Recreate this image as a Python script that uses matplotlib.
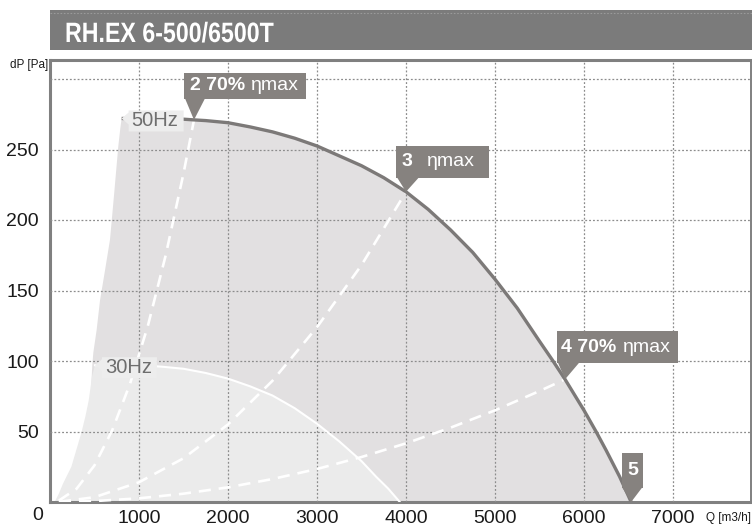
import matplotlib
matplotlib.use("Agg")
import matplotlib.pyplot as plt
from matplotlib.patches import Polygon, Rectangle, PathPatch
from matplotlib.lines import Line2D
from matplotlib.textpath import TextPath
from matplotlib.font_manager import FontProperties
from matplotlib.transforms import Affine2D

plt.rcParams['font.family'] = ['Liberation Sans', 'DejaVu Sans']

# ---- data ----
# 50 Hz fan curve (Q m3/h, dP Pa)
q50 = [805, 1000, 1250, 1500, 1618, 1750, 2000, 2250, 2500, 2750, 3000, 3250, 3500, 3750,
       4000, 4250, 4500, 4750, 5000, 5250, 5500, 5652, 5787, 6000, 6135, 6250, 6400, 6530]
p50 = [272, 272, 272, 271.5, 271, 270.5, 269, 266, 262.5, 258, 252.5, 245.5, 238.5, 230,
       220, 207.5, 193, 177, 158, 137.5, 114, 100, 87, 65, 50, 36.5, 18, 0]
# left (stall) boundary of the 50 Hz area
stall50_q = [400, 475, 487, 524, 562, 620, 674, 720, 767, 790, 805]
stall50_p = [0, 97, 106, 122, 143, 165, 186, 218, 252, 265, 272]

# 30 Hz fan curve
q30 = [505, 750, 1000, 1250, 1500, 1750, 2000, 2250, 2500, 2750, 3000, 3250, 3500, 3663, 3800, 3930]
p30 = [97, 97.5, 97, 96, 94.5, 91.5, 87.5, 82, 75.5, 66.5, 55.5, 43, 29, 18, 9.5, 0]
stall30_q = [52, 100, 146, 240, 296, 352, 397, 435, 472, 505]
stall30_p = [0, 6, 13, 25, 37, 49, 60.5, 72, 89, 97]

# system curves (dashed)
sysA_q = [100, 300, 500, 700, 900, 1100, 1300, 1500, 1618]
sysA_p = [1, 9.5, 26, 51, 84, 125, 175, 233, 271]
sysB_q = [100, 500, 1000, 1500, 2000, 2500, 3000, 3500, 4000]
sysB_p = [0.1, 3.4, 14, 31, 55, 86, 124, 168, 220]
sysC_q = [100, 500, 1000, 1500, 2000, 2500, 3000, 3500, 4000, 4500, 5000, 5500, 5787]
sysC_p = [0, 0.65, 2.6, 5.9, 10.4, 16.3, 23.4, 31.9, 41.6, 52.7, 65, 78.7, 87]

# operating point labels: (Q, dP, bold part, regular part)
points = [
    (1618, 271, "2 70%", "\u03b7max"),
    (4000, 220, "3", "\u03b7max"),
    (5787, 87, "4 70%", "\u03b7max"),
    (6530, 0, "5", ""),
]

xticks = [1000, 2000, 3000, 4000, 5000, 6000, 7000]
yticks = [50, 100, 150, 200, 250, 300]
ytick_labels = ["50", "100", "150", "200", "250", ""]
title = "RH.EX 6-500/6500T"

# ---- figure ----
W, H = 752, 529
fig = plt.figure(figsize=(W / 100, H / 100), dpi=100)
ax_l, ax_r, ax_t, ax_b = 50, 751, 60, 502
ax = fig.add_axes([ax_l / W, 1 - ax_b / H, (ax_r - ax_l) / W, (ax_b - ax_t) / H])
xmax = (ax_r - ax_l) / 89 * 1000
ymax = (ax_b - ax_t) / 1.41
ax.set_xlim(0, xmax)
ax.set_ylim(0, ymax)
qpp = xmax / (ax_r - ax_l)   # Q per pixel
ppp = ymax / (ax_b - ax_t)   # Pa per pixel


def off(q, p, dx, dy):
    # pixel offset (dy positive = up) -> data coords
    return q + dx * qpp, p + dy * ppp


# shaded areas
poly50 = list(zip(stall50_q, stall50_p)) + list(zip(q50, p50))
ax.add_patch(Polygon(poly50, closed=True, fc="#e2e0e1", ec="none", zorder=1))
poly30 = list(zip(stall30_q, stall30_p)) + list(zip(q30, p30))
ax.add_patch(Polygon(poly30, closed=True, fc="#ebebeb", ec="none", zorder=1.1))

# grid
ax.set_xticks(xticks)
ax.set_yticks(yticks)
ax.set_yticklabels(ytick_labels)
ax.grid(True, color="#8c8c8c", linestyle=(0, (1.5, 1.6)), linewidth=0.9)
ax.set_axisbelow(False)
ax.tick_params(length=0, labelsize=14, colors="#1a1a1a")
ax.tick_params(axis="y", pad=8)
ax.tick_params(axis="x", pad=6)

# curves
for qs, ps in [(sysA_q, sysA_p), (sysB_q, sysB_p), (sysC_q, sysC_p)]:
    ax.plot(qs, ps, color="white", lw=1.9, dashes=(4.6, 3.0), zorder=3)
ax.plot(q30, p30, color="white", lw=1.5, zorder=3)
ax.plot(q50, p50, color="#7c7978", lw=2.4, zorder=4, solid_capstyle="butt")

for s in ax.spines.values():
    s.set_color("#808080")
    s.set_linewidth(2.2)
ax.spines["right"].set_linewidth(1.4)

# operating point boxes
box_col = "#86827f"
geo = [
    # box x0, x1, y0, y1 (px above tip), triangle base x0, x1, regular text x
    (-10, 112, 21, 47, -9, 11, 57),
    (-10, 83, 14, 46, -9, 13, 21),
    (-8, 113, 16, 48, -7, 14, 58),
    (-9, 12, 14, 49, -9, 11, 0),
]
for (q, p, bold, reg), (bx0, bx1, by0, by1, tx0, tx1, rx) in zip(points, geo):
    box = [off(q, p, bx0, by0), off(q, p, bx1, by0), off(q, p, bx1, by1), off(q, p, bx0, by1)]
    ax.add_patch(Polygon(box, closed=True, fc=box_col, ec="none", zorder=6, clip_on=False))
    tri = [off(q, p, tx0, by0 + 0.5), off(q, p, tx1, by0 + 0.5), off(q, p, 0, 0)]
    ax.add_patch(Polygon(tri, closed=True, fc=box_col, ec="none", zorder=6, clip_on=False))
    cy = (by0 + by1) / 2
    if reg:
        ax.text(*off(q, p, -4, cy), bold, color="white", fontsize=14, fontweight="bold",
                ha="left", va="center", zorder=7)
        ax.text(*off(q, p, rx, cy), reg, color="white", fontsize=14,
                ha="left", va="center", zorder=7)
    else:
        ax.text(*off(q, p, 1.5, cy), bold, color="white", fontsize=14, fontweight="bold",
                ha="center", va="center", zorder=7)

# speed labels
for q, p, lab in [(q50[0], p50[0], "50Hz"), (q30[0], p30[0], "30Hz")]:
    shape = [off(q, p, 0, 0), off(q, p, 7, 6), off(q, p, 7, 8), off(q, p, 62, 8),
             off(q, p, 62, -13), off(q, p, 7, -13), off(q, p, 7, -6)]
    ax.add_patch(Polygon(shape, closed=True, fc="#ededed", ec="none", zorder=5))
    ax.text(*off(q, p, 10, -2.5), lab, color="#6e6e6e", fontsize=14.5,
            ha="left", va="center", zorder=6)

# axis captions
fig.text(43 / W, 1 - 515 / H, "0", fontsize=14, color="#1a1a1a", ha="right", va="center")
fig.text(48 / W, 1 - 65 / H, "dP [Pa]", fontsize=8.5, color="#1a1a1a", ha="right", va="center")
fig.text(751 / W, 1 - 518 / H, "Q [m3/h]", fontsize=8.5, color="#1a1a1a", ha="right", va="center")

# title bar
fig.add_artist(Rectangle((50 / W, 1 - 50 / H), (W - 50) / W, 40 / H,
                         transform=fig.transFigure, fc="#7b7b7b", ec="none"))
fig.add_artist(Line2D([50 / W, 1], [1 - 13 / H, 1 - 13 / H], transform=fig.transFigure,
                      color="#9a9a9a", lw=0.8, linestyle=(0, (1.5, 1.5))))
# condensed bold title: squeeze a text path horizontally (pixel coordinates)
tp = TextPath((0, 0), title, size=28,
              prop=FontProperties(family="Liberation Sans", weight="bold"))
tw = tp.get_extents().width
fig.add_artist(PathPatch(tp, fc="white", ec="none",
                         transform=Affine2D().scale(207 / tw, 1.0).translate(65, H - 42)))

fig.savefig("out.png", dpi=100)
